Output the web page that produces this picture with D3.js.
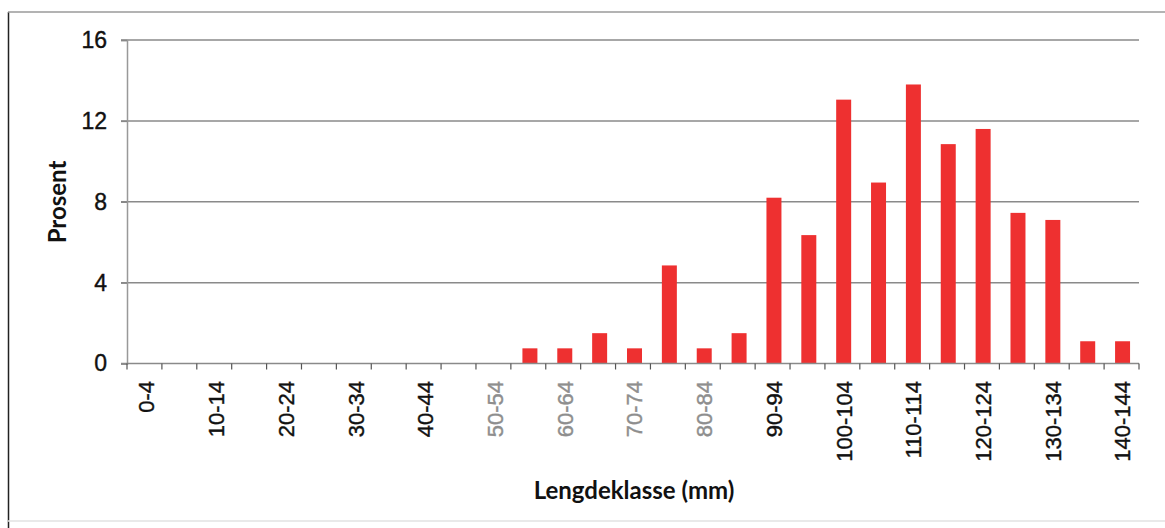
<!DOCTYPE html>
<html><head><meta charset="utf-8">
<script src="https://cdn.jsdelivr.net/npm/d3@7"></script>
<style>body{margin:0;background:#fff;}svg{display:block;}</style>
</head><body>
<svg id="c" width="1165" height="528"></svg>
<script>
const categories = ["0-4","5-9","10-14","15-19","20-24","25-29","30-34","35-39","40-44","45-49","50-54","55-59","60-64","65-69","70-74","75-79","80-84","85-89","90-94","95-99","100-104","105-109","110-114","115-119","120-124","125-129","130-134","135-139","140-144"];
const values = [0,0,0,0,0,0,0,0,0,0,0,0.75,0.75,1.5,0.75,4.85,0.75,1.5,8.2,6.35,13.05,8.95,13.8,10.85,11.6,7.45,7.1,1.1,1.1];
const yTicks = [0,4,8,12,16];
const grayLabels = ["50-54","60-64","70-74","80-84"];
const xTitle = "Lengdeklasse (mm)";
const yTitle = "Prosent";

const svg = d3.select("#c");
const pLeft = 127, pRight = 1139, pTop = 40, pBottom = 363.5;
const x = d3.scaleBand().domain(categories).range([pLeft + 2, pRight + 1]).paddingInner(0.57).paddingOuter(0.285);
const y = d3.scaleLinear().domain([0,16]).range([pBottom, pTop]);

// frame lines (scanned document border)
svg.append("line").attr("x1",8.5).attr("x2",8.5).attr("y1",12).attr("y2",528).attr("stroke","#222").attr("stroke-width",1.5);
svg.append("line").attr("x1",8).attr("x2",1165).attr("y1",12).attr("y2",12).attr("stroke","#9a9a9a").attr("stroke-width",1.5);
svg.append("line").attr("x1",8).attr("x2",1165).attr("y1",521).attr("y2",521).attr("stroke","#e2e2e2").attr("stroke-width",1.5);

// gridlines
svg.append("g").selectAll("line").data(yTicks.filter(d=>d>0)).join("line")
  .attr("x1",pLeft-6).attr("x2",pRight).attr("y1",d=>y(d)).attr("y2",d=>y(d))
  .attr("stroke","#8a8a8a").attr("stroke-width",1.5);

// y axis
const yAxis = d3.axisLeft(y).tickValues(yTicks).tickSize(6).tickPadding(14).tickFormat(d3.format("d"));
const gy = svg.append("g").attr("transform",`translate(${pLeft},0)`).call(yAxis);
gy.select(".domain").attr("stroke","#999").attr("stroke-width",1.5);
gy.selectAll(".tick line").attr("stroke","#888").attr("stroke-width",1.5);
gy.selectAll("text").attr("font-family","'Liberation Sans', Arial, sans-serif").attr("font-size",23)
  .attr("fill","#111").attr("stroke","#111").attr("stroke-width",0.4);

// bars
svg.append("g").selectAll("rect").data(values.map((v,i)=>({c:categories[i],v}))).join("rect")
  .attr("x",d=>x(d.c)).attr("width",x.bandwidth())
  .attr("y",d=>y(d.v)).attr("height",d=>pBottom-y(d.v))
  .attr("fill","#ee3030");

// x axis
svg.append("line").attr("x1",pLeft-6).attr("x2",pRight).attr("y1",pBottom).attr("y2",pBottom).attr("stroke","#8a8a8a").attr("stroke-width",1.5);
const step = (pRight - pLeft) / categories.length;
const boundaries = d3.range(categories.length+1).map(i=>pLeft + i*step);
svg.append("g").selectAll("line").data(boundaries).join("line")
  .attr("x1",d=>d).attr("x2",d=>d).attr("y1",pBottom).attr("y2",pBottom+6)
  .attr("stroke","#555").attr("stroke-width",1.2);

svg.append("g").selectAll("text").data(categories.filter((c,i)=>i%2===0)).join("text")
  .attr("transform",d=>`translate(${x(d)+x.bandwidth()/2},381) rotate(-90)`)
  .attr("text-anchor","end").attr("dy","0.36em")
  .attr("font-family","'Liberation Sans', Arial, sans-serif").attr("font-size",22)
  .attr("fill",d=>grayLabels.includes(d)?"#8e8e8e":"#111")
  .attr("stroke",d=>grayLabels.includes(d)?"#8e8e8e":"#111").attr("stroke-width",0.4)
  .text(d=>d);

// titles
svg.append("text").attr("x",634).attr("y",499).attr("text-anchor","middle")
  .attr("font-family","Lato, 'Open Sans', sans-serif").attr("font-weight","bold").attr("font-size",24).attr("fill","#111")
  .text(xTitle);
svg.append("text").attr("transform","translate(66,202) rotate(-90)").attr("text-anchor","middle")
  .attr("font-family","Lato, 'Open Sans', sans-serif").attr("font-weight","bold").attr("font-size",24).attr("fill","#111")
  .text(yTitle);
</script>
</body></html>
